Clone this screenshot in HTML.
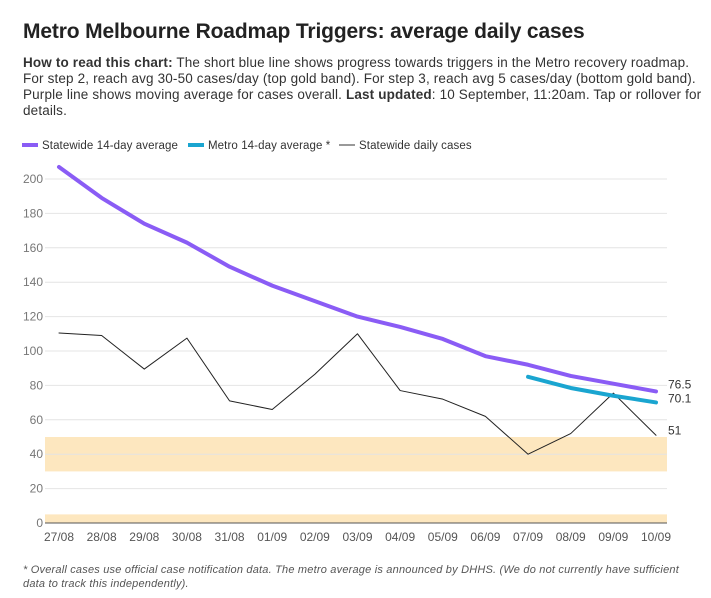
<!DOCTYPE html>
<html><head><meta charset="utf-8"><style>
body{margin:0;background:#fff;font-family:"Liberation Sans",sans-serif;color:#222;width:711px;height:598px;overflow:hidden}
h1{font-size:21px;font-weight:bold;margin:0;position:absolute;left:23px;top:20px;letter-spacing:-0.15px}
.desc{position:absolute;left:23px;top:55px;width:690px;font-size:13.5px;line-height:16px;color:#333;white-space:nowrap;letter-spacing:0.15px}
.note{position:absolute;left:23px;top:563px;width:690px;font-size:11px;font-style:italic;color:#555;line-height:14px;white-space:nowrap;letter-spacing:0.2px}
svg{position:absolute;left:0;top:0}
</style></head><body>
<h1>Metro Melbourne Roadmap Triggers: average daily cases</h1>
<div class="desc"><b>How to read this chart:</b> The short blue line shows progress towards triggers in the Metro recovery roadmap.<br>For step 2, reach avg 30-50 cases/day (top gold band). For step 3, reach avg 5 cases/day (bottom gold band).<br>Purple line shows moving average for cases overall. <b>Last updated</b>: 10 September, 11:20am. Tap or rollover for<br>details.</div>
<svg id="chart" width="711" height="598"></svg>
<div class="note">* Overall cases use official case notification data. The metro average is announced by DHHS. (We do not currently have sufficient<br>data to track this independently).</div>
<script>
const categories=["27/08","28/08","29/08","30/08","31/08","01/09","02/09","03/09","04/09","05/09","06/09","07/09","08/09","09/09","10/09"];
const statewideAvg=[207,189,174,163,149,138,129,120,114,107,97,92,85.5,81,76.5];
const dailyCases=[110.5,109,89.5,107.5,71,66,86.5,110,77,72,62,40,52,75.5,51];
const metroAvg=[null,null,null,null,null,null,null,null,null,null,null,85,78.5,74,70.1];
const yTicks=[0,20,40,60,80,100,120,140,160,180,200];
const bands=[[30,50],[0,5]];
const svg=document.getElementById('chart');
const NS='http://www.w3.org/2000/svg';
const x0=45,x1=667;
const X=i=>59+i*(656-59)/(categories.length-1);
const Y=v=>523-v*(523-179)/200;
function mk(t,a){const e=document.createElementNS(NS,t);for(const k in a)e.setAttribute(k,a[k]);svg.appendChild(e);return e;}
const leg=[["Statewide 14-day average","#8a5cf5",4,22,42],["Metro 14-day average *","#1aa5d0",4,188,208],["Statewide daily cases","#333",1,339,359]];
leg.forEach(l=>{const g=mk('line',{x1:l[3],x2:l[3]+16,y1:145,y2:145,stroke:l[1],'stroke-width':l[2]});

const t=mk('text',{x:l[4],y:149,'font-size':11.5,fill:'#333','letter-spacing':'0.1'});t.textContent=l[0];
});
bands.forEach(b=>{const r=mk('rect',{x:x0,y:Y(b[1]),width:x1-x0,height:Y(b[0])-Y(b[1]),fill:'#fde7bf'});
});
yTicks.forEach(v=>{if(v>0){const l=mk('line',{x1:x0,x2:x1,y1:Y(v),y2:Y(v),stroke:'#e4e4e4','stroke-width':1});
}
const t=mk('text',{x:43,y:Y(v)+4,'font-size':12,fill:'#777','text-anchor':'end'});t.textContent=v;
});
const ax=mk('line',{x1:x0,x2:x1,y1:523,y2:523,stroke:'#555','stroke-width':1});

categories.forEach((c,i)=>{
const t=mk('text',{x:X(i),y:541,'font-size':12,fill:'#555','text-anchor':'middle'});t.textContent=c;
});
function line(arr,col,w,name){let d='';arr.forEach((v,i)=>{if(v==null)return;d+=(d?'L':'M')+X(i)+','+Y(v);});
const p=mk('path',{d:d,fill:'none',stroke:col,'stroke-width':w,'stroke-linejoin':'round','stroke-linecap':'round'});
}
line(dailyCases,'#222',1,'daily-cases-line');
line(statewideAvg,'#8a5cf5',4,'statewide-avg-line');
line(metroAvg,'#1aa5d0',4,'metro-avg-line');
const n=categories.length-1;
[[statewideAvg[n],-3],[metroAvg[n],0],[dailyCases[n],-1]].forEach(a=>{const t=mk('text',{x:668,y:Y(a[0])+a[1],'font-size':12,fill:'#333'});
t.textContent=a[0];});
</script>
</body></html>
